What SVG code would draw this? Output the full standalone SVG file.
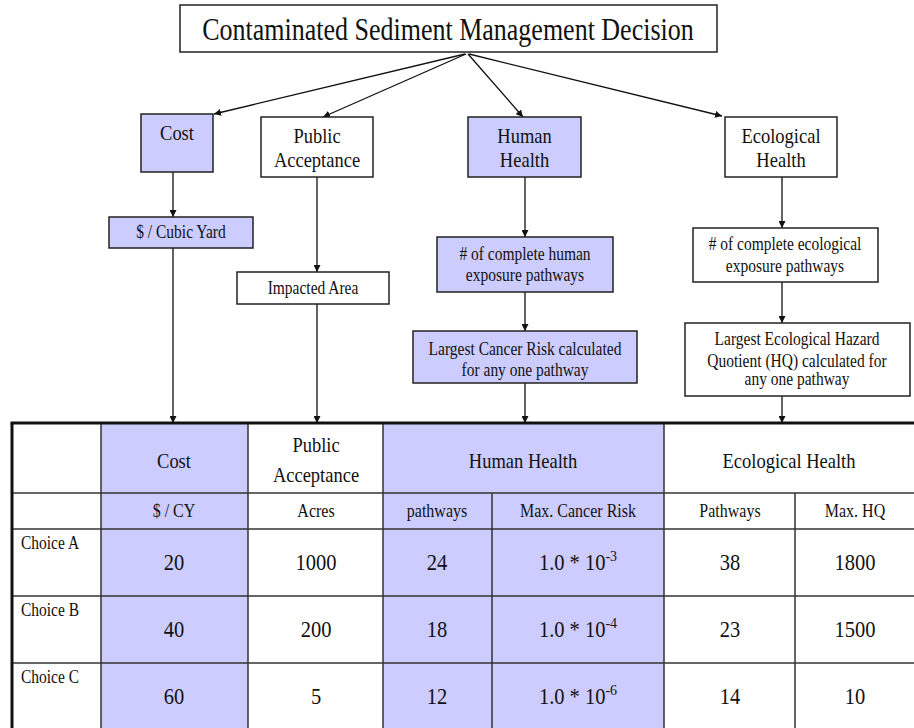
<svg xmlns="http://www.w3.org/2000/svg" width="914" height="728" viewBox="0 0 914 728">
<style>
text{font-family:"Liberation Serif","Times New Roman",serif;fill:#111;text-anchor:middle}
.box{stroke:#222;stroke-width:1.5}
.lav{fill:#ccccff}
.wht{fill:#fff}
.c line,.c path{stroke:#111;stroke-width:1.3;fill:none}
.grid line{stroke:#333;stroke-width:1.5}
.f26{font-size:26px}
.f18{font-size:18.5px}
.f16{font-size:16px}
.f15{font-size:15.5px}
.f21{font-size:20.5px}
.lft{text-anchor:start}
</style>
<defs>
<marker id="ah" viewBox="0 0 10 10" refX="10" refY="5" markerWidth="7" markerHeight="7" markerUnits="userSpaceOnUse" orient="auto">
<path d="M0,0 L10,5 L0,10 z" fill="#111"/>
</marker>
</defs>
<rect width="914" height="728" fill="#fff"/>

<g id="table">
<rect x="101" y="423" width="147" height="305" class="lav"/>
<rect x="383" y="423" width="281" height="305" class="lav"/>
<g class="grid">
<line x1="101" y1="423" x2="101" y2="728"/>
<line x1="248" y1="423" x2="248" y2="728"/>
<line x1="383" y1="423" x2="383" y2="728"/>
<line x1="492" y1="493" x2="492" y2="728"/>
<line x1="664" y1="423" x2="664" y2="728"/>
<line x1="795" y1="493" x2="795" y2="728"/>
<line x1="12" y1="493" x2="914" y2="493"/>
<line x1="12" y1="529" x2="914" y2="529"/>
<line x1="12" y1="596" x2="914" y2="596"/>
<line x1="12" y1="663" x2="914" y2="663"/>
</g>
<line x1="10.5" y1="423" x2="914" y2="423" stroke="#111" stroke-width="3"/>
<line x1="12" y1="423" x2="12" y2="728" stroke="#111" stroke-width="3"/>
<text class="f18" transform="translate(174,468) scale(1,1.15)">Cost</text>
<text class="f18" transform="translate(316,452) scale(1,1.15)"><tspan x="0" y="0">Public</tspan><tspan x="0" y="26">Acceptance</tspan></text>
<text class="f18" transform="translate(523,468) scale(1,1.15)">Human Health</text>
<text class="f18" transform="translate(789,468) scale(1,1.15)">Ecological Health</text>
<text class="f16" transform="translate(174,517) scale(1,1.15)">$ / CY</text>
<text class="f16" transform="translate(316,517) scale(1,1.15)">Acres</text>
<text class="f16" transform="translate(437,517) scale(1,1.15)">pathways</text>
<text class="f16" transform="translate(578,517) scale(1,1.15)">Max. Cancer Risk</text>
<text class="f16" transform="translate(730,517) scale(1,1.15)">Pathways</text>
<text class="f16" transform="translate(855,517) scale(1,1.15)">Max. HQ</text>
<text class="f15 lft" transform="translate(21,549) scale(1,1.15)">Choice A</text>
<text class="f15 lft" transform="translate(21,616) scale(1,1.15)">Choice B</text>
<text class="f15 lft" transform="translate(21,683) scale(1,1.15)">Choice C</text>
<text class="f21" transform="translate(174,570) scale(1,1.1)">20</text>
<text class="f21" transform="translate(316,570) scale(1,1.1)">1000</text>
<text class="f21" transform="translate(437,570) scale(1,1.1)">24</text>
<text class="f21" transform="translate(578,570) scale(1,1.1)">1.0 * 10<tspan font-size="14" dy="-8">-3</tspan></text>
<text class="f21" transform="translate(730,570) scale(1,1.1)">38</text>
<text class="f21" transform="translate(855,570) scale(1,1.1)">1800</text>
<text class="f21" transform="translate(174,637) scale(1,1.1)">40</text>
<text class="f21" transform="translate(316,637) scale(1,1.1)">200</text>
<text class="f21" transform="translate(437,637) scale(1,1.1)">18</text>
<text class="f21" transform="translate(578,637) scale(1,1.1)">1.0 * 10<tspan font-size="14" dy="-8">-4</tspan></text>
<text class="f21" transform="translate(730,637) scale(1,1.1)">23</text>
<text class="f21" transform="translate(855,637) scale(1,1.1)">1500</text>
<text class="f21" transform="translate(174,704) scale(1,1.1)">60</text>
<text class="f21" transform="translate(316,704) scale(1,1.1)">5</text>
<text class="f21" transform="translate(437,704) scale(1,1.1)">12</text>
<text class="f21" transform="translate(578,704) scale(1,1.1)">1.0 * 10<tspan font-size="14" dy="-8">-6</tspan></text>
<text class="f21" transform="translate(730,704) scale(1,1.1)">14</text>
<text class="f21" transform="translate(855,704) scale(1,1.1)">10</text>
</g>

<g class="c" id="connectors">
<line x1="465" y1="54" x2="214" y2="114" marker-end="url(#ah)"/>
<line x1="466" y1="54" x2="323" y2="117" marker-end="url(#ah)"/>
<line x1="468" y1="54" x2="523" y2="117" marker-end="url(#ah)"/>
<line x1="469" y1="54" x2="722" y2="116" marker-end="url(#ah)"/>
<line x1="173" y1="172" x2="173" y2="217" marker-end="url(#ah)"/>
<line x1="173" y1="248" x2="173" y2="423" marker-end="url(#ah)"/>
<line x1="317" y1="177" x2="317" y2="272" marker-end="url(#ah)"/>
<line x1="317" y1="304" x2="317" y2="423" marker-end="url(#ah)"/>
<line x1="525" y1="177" x2="525" y2="237" marker-end="url(#ah)"/>
<line x1="525" y1="292" x2="525" y2="331" marker-end="url(#ah)"/>
<line x1="525" y1="383" x2="525" y2="423" marker-end="url(#ah)"/>
<line x1="782" y1="177" x2="782" y2="228" marker-end="url(#ah)"/>
<line x1="782" y1="282" x2="782" y2="323" marker-end="url(#ah)"/>
<line x1="782" y1="396" x2="782" y2="423" marker-end="url(#ah)"/>
</g>

<g id="title">
<rect x="180" y="5" width="537" height="47" class="box wht"/>
<text class="f26" transform="translate(448,39.5) scale(1,1.18)">Contaminated Sediment Management Decision</text>
</g>
<g id="cost">
<rect x="141" y="114" width="72" height="58" class="box lav"/>
<text class="f18" transform="translate(177,140) scale(1,1.15)">Cost</text>
</g>
<g id="public-acceptance">
<rect x="261" y="117" width="112" height="60" class="box wht"/>
<text class="f18" transform="translate(317,143) scale(1,1.15)"><tspan x="0" y="0">Public</tspan><tspan x="0" y="21">Acceptance</tspan></text>
</g>
<g id="human-health">
<rect x="468" y="117" width="113" height="60" class="box lav"/>
<text class="f18" transform="translate(524.5,143) scale(1,1.15)"><tspan x="0" y="0">Human</tspan><tspan x="0" y="21">Health</tspan></text>
</g>
<g id="ecological-health">
<rect x="725" y="117" width="112" height="60" class="box wht"/>
<text class="f18" transform="translate(781,143) scale(1,1.15)"><tspan x="0" y="0">Ecological</tspan><tspan x="0" y="21">Health</tspan></text>
</g>
<g id="cubic-yard">
<rect x="109" y="217" width="144" height="31" class="box lav"/>
<text class="f15" transform="translate(181,238) scale(1,1.15)">$ / Cubic Yard</text>
</g>
<g id="impacted-area">
<rect x="237" y="272" width="152" height="32" class="box wht"/>
<text class="f15" transform="translate(313,294) scale(1,1.15)">Impacted Area</text>
</g>
<g id="human-pathways">
<rect x="437" y="237" width="176" height="55" class="box lav"/>
<text class="f15" transform="translate(525,260) scale(1,1.15)"><tspan x="0" y="0"># of complete human</tspan><tspan x="0" y="18.5">exposure pathways</tspan></text>
</g>
<g id="cancer-risk">
<rect x="413" y="331" width="224" height="52" class="box lav"/>
<text class="f15" transform="translate(525,355) scale(1,1.15)"><tspan x="0" y="0">Largest Cancer Risk calculated</tspan><tspan x="0" y="18">for any one pathway</tspan></text>
</g>
<g id="eco-pathways">
<rect x="693" y="228" width="185" height="54" class="box wht"/>
<text class="f15" transform="translate(785,250) scale(1,1.15)"><tspan x="0" y="0"># of complete ecological</tspan><tspan x="0" y="19.5">exposure pathways</tspan></text>
</g>
<g id="eco-hq">
<rect x="685" y="323" width="225" height="73" class="box wht"/>
<text class="f15" transform="translate(797,345) scale(1,1.15)"><tspan x="0" y="0">Largest Ecological Hazard</tspan><tspan x="0" y="19">Quotient (HQ) calculated for</tspan><tspan x="0" y="35">any one pathway</tspan></text>
</g>
</svg>
